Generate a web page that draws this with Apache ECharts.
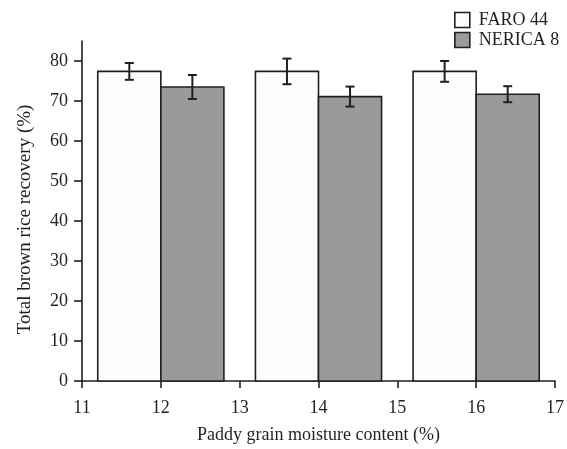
<!DOCTYPE html>
<html>
<head>
<meta charset="utf-8">
<script src="https://cdn.jsdelivr.net/npm/echarts@6/dist/echarts.min.js"></script>
<style>html,body{margin:0;padding:0;background:#fff}#c{width:567px;height:449px}</style>
</head>
<body>
<div id="c"></div>
<script>
// Data
const moisture = [12, 14, 16];
const faro44 = [77.4, 77.4, 77.4];
const faro44Err = [2.1, 3.2, 2.6];
const nerica8 = [73.5, 71.1, 71.7];
const nerica8Err = [3.0, 2.5, 2.0];
const xTicks = [11, 12, 13, 14, 15, 16, 17];
const yTicks = [0, 10, 20, 30, 40, 50, 60, 70, 80];

const BAR_W = 0.8; // width of each bar in x-axis units
const INK = '#231f20';
const FONT = 'Liberation Serif';

function barRenderer(side, fill) {
  return function (params, api) {
    const x = api.value(0), y = api.value(1);
    const x0 = side < 0 ? x - BAR_W : x;
    const x1 = side < 0 ? x : x + BAR_W;
    const p0 = api.coord([x0, y]);
    const p1 = api.coord([x1, 0]);
    return {
      type: 'rect',
      shape: { x: p0[0], y: p0[1], width: p1[0] - p0[0], height: p1[1] - p0[1] },
      style: { fill: fill, stroke: INK, lineWidth: 1.6 }
    };
  };
}
function errRenderer(side) {
  return function (params, api) {
    const x = api.value(0) + side * BAR_W / 2;
    const y = api.value(1), e = api.value(2);
    const top = api.coord([x, y + e]);
    const bot = api.coord([x, y - e]);
    const cap = 4.5;
    const st = { stroke: INK, lineWidth: 2 };
    return {
      type: 'group',
      children: [
        { type: 'line', shape: { x1: top[0], y1: top[1], x2: bot[0], y2: bot[1] }, style: st },
        { type: 'line', shape: { x1: top[0] - cap, y1: top[1], x2: top[0] + cap, y2: top[1] }, style: st },
        { type: 'line', shape: { x1: bot[0] - cap, y1: bot[1], x2: bot[0] + cap, y2: bot[1] }, style: st }
      ]
    };
  };
}

const chart = echarts.init(document.getElementById('c'), null, { renderer: 'canvas' });
chart.setOption({
  animation: false,
  backgroundColor: '#fff',
  textStyle: { fontFamily: FONT },
  grid: { left: 82, right: 10, top: 41, bottom: 67, containLabel: false },
  legend: {
    orient: 'vertical',
    left: 449,
    top: 6,
    itemWidth: 15,
    itemHeight: 15,
    itemGap: 2,
    textStyle: { fontFamily: FONT, fontSize: 18, color: INK, padding: [0, 0, 0, 4] },
    data: [
      { name: 'FARO 44', icon: 'rect', itemStyle: { color: '#fdfdfd', borderColor: INK, borderWidth: 1.6 } },
      { name: 'NERICA 8', icon: 'rect', itemStyle: { color: '#9a9a9a', borderColor: INK, borderWidth: 1.6 } }
    ]
  },
  xAxis: {
    type: 'value',
    min: 11, max: 17, interval: 1,
    name: 'Paddy grain moisture content (%)',
    nameLocation: 'middle',
    nameGap: 45,
    nameTextStyle: { fontFamily: FONT, fontSize: 18, color: INK },
    axisLine: { lineStyle: { color: INK, width: 1.6 } },
    axisTick: { show: true, length: 7, lineStyle: { color: INK, width: 1.6 }, customValues: xTicks },
    axisLabel: { fontFamily: FONT, fontSize: 18, color: INK, margin: 18, customValues: xTicks },
    splitLine: { show: false }
  },
  yAxis: {
    type: 'value',
    min: 0, max: 85,
    name: 'Total brown rice recovery (%)',
    nameLocation: 'middle',
    nameGap: 47,
    nameTextStyle: { fontFamily: FONT, fontSize: 19, color: INK, padding: [0, 17, 0, 0] },
    axisLine: { show: true, lineStyle: { color: INK, width: 1.6 } },
    axisTick: { show: true, length: 8, lineStyle: { color: INK, width: 1.6 }, customValues: yTicks },
    axisLabel: { fontFamily: FONT, fontSize: 18, color: INK, margin: 14, customValues: yTicks },
    splitLine: { show: false }
  },
  series: [
    {
      name: 'FARO 44', type: 'custom', renderItem: barRenderer(-1, '#fdfdfd'),
      itemStyle: { color: '#fdfdfd', borderColor: INK },
      encode: { x: 0, y: 1 },
      data: moisture.map((m, i) => [m, faro44[i]]), z: 2
    },
    {
      name: 'NERICA 8', type: 'custom', renderItem: barRenderer(1, '#9a9a9a'),
      itemStyle: { color: '#9a9a9a', borderColor: INK },
      encode: { x: 0, y: 1 },
      data: moisture.map((m, i) => [m, nerica8[i]]), z: 2
    },
    {
      name: 'FARO 44 err', type: 'custom', renderItem: errRenderer(-1),
      encode: { x: 0, y: 1 },
      data: moisture.map((m, i) => [m, faro44[i], faro44Err[i]]), z: 3
    },
    {
      name: 'NERICA 8 err', type: 'custom', renderItem: errRenderer(1),
      encode: { x: 0, y: 1 },
      data: moisture.map((m, i) => [m, nerica8[i], nerica8Err[i]]), z: 3
    }
  ]
});
</script>
</body>
</html>
